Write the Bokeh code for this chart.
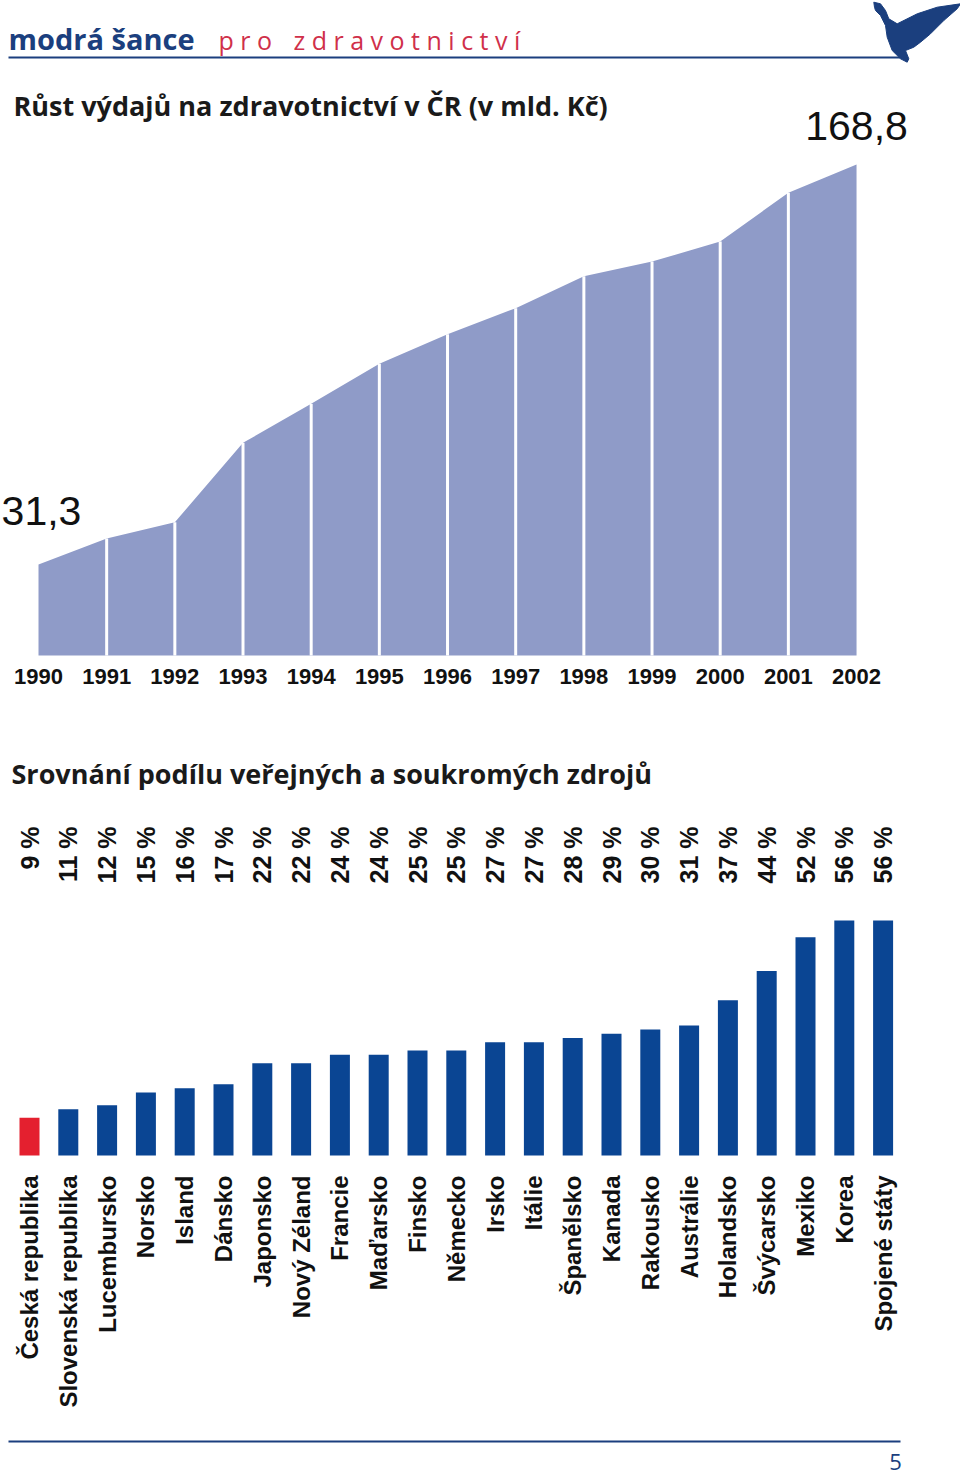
import math
from bokeh.plotting import figure
from bokeh.layouts import column
from bokeh.models import Range1d
from bokeh.core.properties import value
from bokeh.embed import file_html
from bokeh.resources import INLINE

# ---------------- data ----------------
years = [1990, 1991, 1992, 1993, 1994, 1995, 1996, 1997, 1998, 1999, 2000, 2001, 2002]
spending = [31.3, 40.2, 45.8, 73.1, 86.5, 100.3, 110.4, 119.4, 130.4, 135.4, 142.3, 159.1, 168.8]

countries = ["Česká republika", "Slovenská republika", "Lucembursko", "Norsko", "Island",
             "Dánsko", "Japonsko", "Nový Zéland", "Francie", "Maďarsko", "Finsko", "Německo",
             "Irsko", "Itálie", "Španělsko", "Kanada", "Rakousko", "Austrálie", "Holandsko",
             "Švýcarsko", "Mexiko", "Korea", "Spojené státy"]
private_share = [9, 11, 12, 15, 16, 17, 22, 22, 24, 24, 25, 25, 27, 27, 28, 29, 30, 31, 37, 44, 52, 56, 56]

header_brand = "modrá šance"
header_pro = "p r o"
header_rest = "z d r a v o t n i c t v í"
title_area = "Růst výdajů na zdravotnictví v ČR (v mld. Kč)"
title_bars = "Srovnání podílu veřejných a soukromých zdrojů"
page_number = "5"

# ---------------- styles ----------------
BLUE_DARK = "#1b3f7e"
BLUE_BAR = "#0a4593"
RED_BAR = "#e4202f"
RED_TEXT = "#d0304a"
AREA_FILL = "#8f9bc8"
TXT = "#111111"
HEAD_FONT = "Open Sans"
LBL_FONT = "Liberation Sans"

W = 960


def make_fig(h, xr, yr):
    p = figure(width=W, height=h, x_range=xr, y_range=yr, output_backend="svg",
               toolbar_location=None, min_border=0, x_axis_type=None, y_axis_type=None)
    p.grid.visible = False
    p.outline_line_color = None
    p.background_fill_color = "white"
    p.border_fill_color = "white"
    return p


# ---------------- header ----------------
ph = make_fig(70, Range1d(0, W), Range1d(70, 0))
ph.text(x=[8], y=[38], text=[header_brand], text_font=value(HEAD_FONT), text_font_style="bold",
        text_font_size="29px", text_color=BLUE_DARK, text_baseline="middle")
ph.text(x=[218, 293], y=[39, 39], text=[header_pro, header_rest], text_font=value(HEAD_FONT),
        text_font_size="25px", text_color=RED_TEXT, text_baseline="middle")
ph.line(x=[8, 900], y=[57, 57], line_color=BLUE_DARK, line_width=2)
bird_x = [873.3, 880, 885, 888.3, 896.7, 916.7, 936.7, 960, 956.7, 943.3, 930, 920, 913.3, 905,
          908.3, 906.7, 900, 891.7, 886.7, 885, 880, 875, 874]
bird_y = [1.7, 3.3, 10, 18.3, 23.3, 13.3, 6.7, 3.3, 8.3, 20, 33.3, 41.7, 46.7, 50, 58.3, 61.7,
          58.3, 50, 36.7, 25, 15, 10, 6.7]
ph.patch(x=bird_x, y=bird_y, fill_color=BLUE_DARK, line_color=BLUE_DARK)

# ---------------- area chart ----------------
PX_YEAR = 68.17      # pixels per year
X1990 = 38           # page x of first year
PX_VAL = 2.909       # pixels per bn CZK
BASE_A = 655         # page y of zero
TOP_A, BOT_A = 70, 720


def ax(px):
    return years[0] + (px - X1990) / PX_YEAR


def ay(py):
    return (BASE_A - py) / PX_VAL


pa = make_fig(BOT_A - TOP_A, Range1d(ax(0), ax(W)), Range1d(ay(BOT_A), ay(TOP_A)))
pa.varea(x=years, y1=[0] * len(years), y2=spending, fill_color=AREA_FILL)
pa.segment(x0=years[1:-1], y0=[0] * (len(years) - 2), x1=years[1:-1], y1=spending[1:-1],
           line_color="white", line_width=3)
pa.text(x=years, y=[ay(676)] * len(years), text=[str(y) for y in years],
        text_font=value(LBL_FONT), text_font_style="bold", text_font_size="22px",
        text_color=TXT, text_align="center", text_baseline="middle")


def fmt(v):
    return ("%.1f" % v).replace(".", ",")


pa.text(x=[years[-1]], y=[spending[-1] + 38 / PX_VAL], text=[fmt(spending[-1])],
        text_font=value(LBL_FONT), text_font_size="41px", text_color=TXT,
        text_align="center", text_baseline="middle")
pa.text(x=[years[0] + 3 / PX_YEAR], y=[spending[0] + 53 / PX_VAL], text=[fmt(spending[0])],
        text_font=value(LBL_FONT), text_font_size="41px", text_color=TXT,
        text_align="center", text_baseline="middle")
pa.text(x=[ax(13)], y=[ay(105)], text=[title_area], text_font=value(HEAD_FONT),
        text_font_style="bold", text_font_size="27px", text_color="#1a1a1a",
        text_baseline="middle")

# ---------------- bar chart ----------------
PX_BAR = 38.8        # pixels per bar slot
X0_BAR = 29          # page x of first bar centre
PX_PCT = 4.196       # pixels per percent
BASE_B = 1155
TOP_B, BOT_B = 720, 1430


def bx(px):
    return (px - X0_BAR) / PX_BAR


def by(py):
    return (BASE_B - py) / PX_PCT


idx = list(range(len(countries)))
colors = [RED_BAR if c == "Česká republika" else BLUE_BAR for c in countries]
pb = make_fig(BOT_B - TOP_B, Range1d(bx(0), bx(W)), Range1d(by(BOT_B), by(TOP_B)))
pb.vbar(x=idx, top=private_share, bottom=0, width=20 / PX_BAR, fill_color=colors, line_color=None)
pb.text(x=idx, y=[by(826)] * len(idx), text=["%d %%" % v for v in private_share],
        text_font=value(LBL_FONT), text_font_style="bold", text_font_size="25px",
        text_color=TXT, angle=math.pi / 2, text_align="right", text_baseline="middle")
pb.text(x=idx, y=[by(1175)] * len(idx), text=countries,
        text_font=value(LBL_FONT), text_font_style="bold", text_font_size="24px",
        text_color=TXT, angle=math.pi / 2, text_align="right", text_baseline="middle")
pb.text(x=[bx(11)], y=[by(773)], text=[title_bars], text_font=value(HEAD_FONT),
        text_font_style="bold", text_font_size="27px", text_color="#1a1a1a",
        text_baseline="middle")

# ---------------- footer ----------------
pf = make_fig(1479 - BOT_B, Range1d(0, W), Range1d(1479, BOT_B))
pf.line(x=[8, 900], y=[1441, 1441], line_color=BLUE_DARK, line_width=2)
pf.text(x=[895], y=[1461], text=[page_number], text_font=value(HEAD_FONT), text_font_size="22px",
        text_color=BLUE_DARK, text_align="center", text_baseline="middle")

layout = column(ph, pa, pb, pf, spacing=0)
open("out.html", "w").write(file_html(layout, INLINE))
